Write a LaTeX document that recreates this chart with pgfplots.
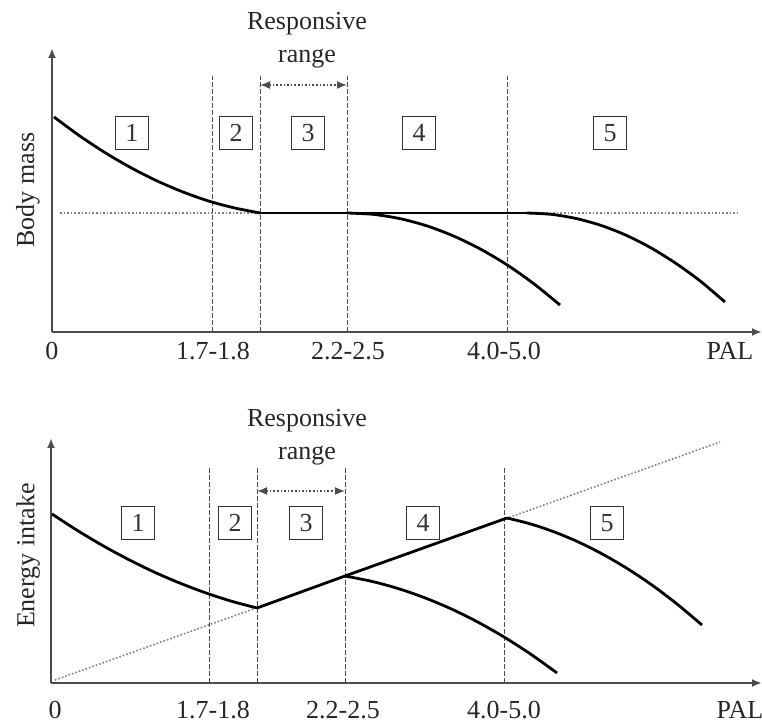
\documentclass[border=0pt]{standalone}
\usepackage{fontspec}
\setmainfont{Liberation Serif}
\usepackage{pgfplots}
\pgfplotsset{compat=1.18}
\usetikzlibrary{arrows.meta}

% 1 data unit = 1 px of the reference = 0.5pt; y runs upward from the page bottom
\pgfplotsset{
  panel/.style={
    scale only axis, clip=false,
    axis lines=left,
    axis line style={-{Latex[length=5pt,width=4pt]}, line width=1pt, black!70},
    major tick length=0pt,
    ytick=\empty,
    font=\fontsize{13}{15}\selectfont,
    xticklabel style={text=black!85, anchor=center, yshift=-9.5pt},
    ylabel style={text=black!85, anchor=center},
  },
}
\tikzset{
  bound/.style={dash pattern=on 2.5pt off 1pt, line width=0.45pt, black!70},
  ref/.style={densely dotted, line width=0.8pt, black!50},
  curve/.style={line width=1.4pt, black, smooth},
  zone/.style={draw, line width=0.7pt, black!80, minimum size=16.5pt, inner sep=0pt,
    text=black!80, font=\fontsize{13}{15}\selectfont},
  resp/.style={align=center, text=black!85, font=\fontsize{13}{16.5}\selectfont},
}

\begin{document}
\begin{tikzpicture}
\useasboundingbox (0,0) rectangle (381pt,362pt);

% ---------------- top: body mass ----------------
\begin{axis}[panel, at={(26pt,196pt)}, anchor=south west,
    width=355pt, height=142pt,
    xmin=52, xmax=762, ymin=392, ymax=676,
    xtick={52,213,348,504,730},
    xticklabels={\mbox{0},\mbox{1.7-1.8},\mbox{2.2-2.5},\mbox{4.0-5.0},\mbox{PAL}},
    ylabel={Body mass},
    ylabel style={at={(axis description cs:-0.034,0.5)}}]
  \addplot[bound] coordinates {(212,392) (212,648)};
  \addplot[bound] coordinates {(260,392) (260,648)};
  \addplot[bound] coordinates {(347,392) (347,648)};
  \addplot[bound] coordinates {(507,392) (507,648)};
  \addplot[ref] coordinates {(60,511) (738,511)};
  \addplot[curve] coordinates {(54,607) (79.8,588) (105.5,571.1) (131.3,556.1) (157,543.1)
    (182.8,532.1) (208.5,523) (234.3,516.1) (260,511)};
  \addplot[line width=1.4pt, black] coordinates {(260,511) (527,511)};
  \addplot[curve] coordinates {(347,511) (373.6,509.6) (400.3,505.3) (426.9,498.1) (453.5,488)
    (480.1,475.1) (506.8,459.3) (533.4,440.6) (560,419)};
  \addplot[curve] coordinates {(527,511) (551.8,509.6) (576.5,505.4) (601.3,498.5) (626,488.8)
    (650.8,476.2) (675.5,460.9) (700.3,442.9) (725,422)};
  \addplot[densely dotted, line width=0.8pt, black!70, {Latex[length=5pt,width=4pt]}-{Latex[length=5pt,width=4pt]}]
    coordinates {(260,639) (347,639)};
  \node[resp] at (axis cs:307,684) {Responsive\\range};
  \node[zone] at (axis cs:132,591) {1};
  \node[zone] at (axis cs:236,591) {2};
  \node[zone] at (axis cs:308,591) {3};
  \node[zone] at (axis cs:419,591) {4};
  \node[zone] at (axis cs:610,591) {5};
\end{axis}

% ---------------- bottom: energy intake ----------------
\begin{axis}[panel, at={(25.5pt,20.5pt)}, anchor=south west,
    width=355.5pt, height=122.5pt,
    xmin=51, xmax=762, ymin=41, ymax=286,
    xtick={55,213,343,504,740},
    xticklabels={\mbox{0},\mbox{1.7-1.8},\mbox{2.2-2.5},\mbox{4.0-5.0},\mbox{PAL}},
    xticklabel style={yshift=-4pt},
    ylabel={Energy intake},
    ylabel style={at={(axis description cs:-0.032,0.52)}}]
  \addplot[bound] coordinates {(209,41) (209,257)};
  \addplot[bound] coordinates {(257,41) (257,257)};
  \addplot[bound] coordinates {(345,41) (345,257)};
  \addplot[bound] coordinates {(504,41) (504,257)};
  \addplot[ref] coordinates {(55,44) (720,282)};
  \addplot[curve] coordinates {(52,210) (77.6,193.4) (103.3,178.1) (128.9,164.3) (154.5,151.8)
    (180.1,140.8) (205.8,131.1) (231.4,122.8) (257,116)};
  \addplot[line width=1.4pt, black] coordinates {(257,116) (345,148) (507,206)};
  \addplot[curve] coordinates {(345,148) (371.5,142.7) (398,135.5) (424.5,126.3) (451,115.2)
    (477.5,102.1) (504,87) (530.5,70) (557,51)};
  \addplot[curve] coordinates {(507,206) (531.4,199.8) (555.8,191.5) (580.1,181.2) (604.5,168.8)
    (628.9,154.4) (653.3,138) (677.6,119.5) (702,99)};
  \addplot[densely dotted, line width=0.8pt, black!70, {Latex[length=5pt,width=4pt]}-{Latex[length=5pt,width=4pt]}]
    coordinates {(257,233) (345,233)};
  \node[resp] at (axis cs:307,287) {Responsive\\range};
  \node[zone] at (axis cs:138,201) {1};
  \node[zone] at (axis cs:235,201) {2};
  \node[zone] at (axis cs:306,201) {3};
  \node[zone] at (axis cs:423,201) {4};
  \node[zone] at (axis cs:607,201) {5};
\end{axis}
\end{tikzpicture}
\end{document}
